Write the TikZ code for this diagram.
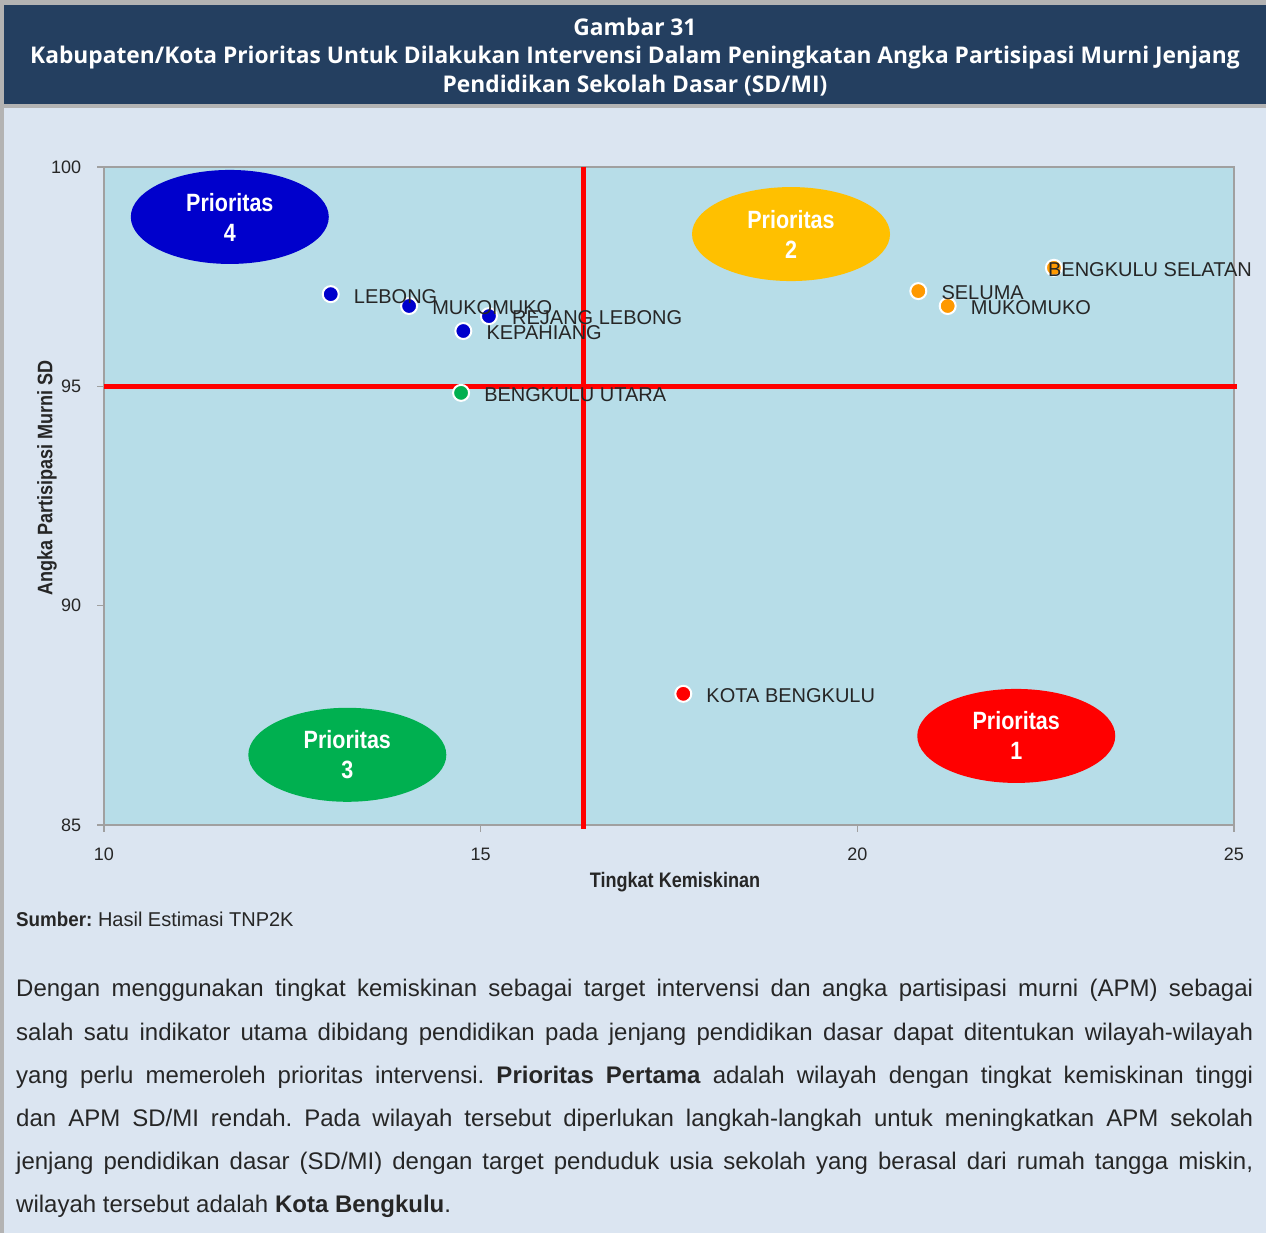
\documentclass[tikz,border=0pt]{standalone}
\usepackage{fontspec}
\setmainfont{Liberation Sans}
\newfontfamily\narrowfont[FakeStretch=0.86]{Liberation Sans}
\newfontfamily\condfont[FakeStretch=0.94]{Liberation Sans}
\newfontfamily\headfont[FakeStretch=0.99]{Open Sans}
\usetikzlibrary{positioning,shapes.geometric}
\definecolor{headblue}{HTML}{243F60}
\definecolor{panelblue}{HTML}{DBE5F1}
\definecolor{plotblue}{HTML}{B7DDE8}
\definecolor{framegray}{HTML}{B3B3B3}
\definecolor{axisgray}{HTML}{A0A0A0}
\definecolor{txtgray}{HTML}{262626}
\definecolor{pblue}{HTML}{0000CC}
\definecolor{porange}{HTML}{FFC000}
\definecolor{dorange}{HTML}{FF9900}
\definecolor{pgreen}{HTML}{00B050}
\tikzset{
  dot/.style={circle, fill=#1, draw=white, line width=2pt, minimum size=16pt, inner sep=0pt},
  dotlabel/.style={font=\fontsize{20}{20}\selectfont, text=txtgray, inner sep=0pt, yshift=-2pt},
  prio/.style={ellipse, fill=#1, minimum width=198pt, minimum height=94pt, inner sep=0pt,
    text=white, align=center, font=\narrowfont\bfseries\fontsize{25}{30}\selectfont},
  ticklabel/.style={font=\fontsize{18}{18}\selectfont, text=txtgray, inner sep=0pt},
  axtitle/.style={font=\narrowfont\bfseries\fontsize{21}{21}\selectfont, text=txtgray, inner sep=0pt}
}
\frenchspacing
\begin{document}
\begin{tikzpicture}[x=1pt, y=1pt]
  % frame, header and panel
  \fill[framegray] (0,0) rectangle (1266,1233);
  \fill[panelblue] (4,0) rectangle (1266,1125);
  \fill[headblue] (4,1129) rectangle (1266,1228);
  \node[text=white, align=center, font=\headfont\bfseries\fontsize{23}{28.5}\selectfont] (title) at (635,1176)
    {Gambar 31\\Kabupaten/Kota Prioritas Untuk Dilakukan Intervensi Dalam Peningkatan Angka Partisipasi Murni Jenjang\\Pendidikan Sekolah Dasar (SD/MI)};

  % the plot, in data units
  \begin{scope}[x=75.33pt, y=43.87pt, shift={(-649.3pt,-3320.95pt)}]
    \fill[plotblue] (10,85) rectangle (25,100);
    \draw[axisgray, line width=1.5pt] (10,85) rectangle (25,100);
    \foreach \y in {85,90,95,100}
      \draw[axisgray, line width=1.5pt] (10,\y) -- ++(-7pt,0) node[ticklabel, left=15pt] {\y};
    \foreach \x in {10,15,20,25}
      \draw[axisgray, line width=1.5pt] (\x,85) -- ++(0,-7pt) node[ticklabel, below=15pt] {\x};
    \draw[red, line width=5pt] (10,95) -- (25.04,95);
    \draw[red, line width=5pt] (16.36,100) -- (16.36,84.9);

    \node[prio=pblue] (p4) at (11.67,98.86) {Prioritas\\4};
    \node[prio=porange] (p2) at (19.12,98.47) {Prioritas\\2};
    \node[prio=pgreen] (p3) at (13.23,86.60) {Prioritas\\3};
    \node[prio=red] (p1) at (22.11,87.03) {Prioritas\\1};

    \node[dot=pblue] (lebong) at (13.01,97.10) {};
    \node[dot=pblue] (mukomukoA) at (14.05,96.83) {};
    \node[dot=pblue] (rejang) at (15.11,96.60) {};
    \node[dot=pblue] (kepahiang) at (14.77,96.26) {};
    \node[dot=pgreen] (utara) at (14.74,94.85) {};
    \node[dot=dorange] (seluma) at (20.81,97.17) {};
    \node[dot=dorange] (mukomukoB) at (21.20,96.83) {};
    \node[dot=dorange] (selatan) at (22.61,97.70) {};
    \node[dot=red] (kota) at (17.69,87.99) {};

    \node[dotlabel, right=14pt of lebong] {LEBONG};
    \node[dotlabel, right=14pt of mukomukoA] {MUKOMUKO};
    \node[dotlabel, right=14pt of rejang] {REJANG LEBONG};
    \node[dotlabel, right=14pt of kepahiang] {KEPAHIANG};
    \node[dotlabel, right=14pt of utara] {BENGKULU UTARA};
    \node[dotlabel, right=14pt of seluma] {SELUMA};
    \node[dotlabel, right=14pt of mukomukoB] {MUKOMUKO};
    \node[dotlabel, right=-15pt of selatan] {BENGKULU SELATAN};
    \node[dotlabel, right=14pt of kota] {KOTA BENGKULU};
  \end{scope}

  \node[axtitle] (xtitle) at (675,351) {Tingkat Kemiskinan};
  \node[axtitle, rotate=90] (ytitle) at (47,755) {Angka Partisipasi Murni SD};

  % source and text below the figure
  \node[anchor=base west, inner sep=0pt, text=txtgray, font=\fontsize{20}{20}\selectfont] (source) at (16,306)
    {{\condfont\bfseries Sumber:} Hasil Estimasi TNP2K};
  \node[anchor=base west, text width=1237pt, align=justify, inner sep=0pt, text=txtgray,
    font=\fontsize{24}{43.2}\selectfont] (body) at (16,236)
    {Dengan menggunakan tingkat kemiskinan sebagai target intervensi dan angka partisipasi murni (APM) sebagai\linebreak
     salah satu indikator utama dibidang pendidikan pada jenjang pendidikan dasar dapat ditentukan wilayah-wilayah\linebreak
     yang perlu memeroleh prioritas intervensi. \textbf{Prioritas Pertama} adalah wilayah dengan tingkat kemiskinan tinggi\linebreak
     dan APM SD/MI rendah. Pada wilayah tersebut diperlukan langkah-langkah untuk meningkatkan APM sekolah\linebreak
     jenjang pendidikan dasar (SD/MI) dengan target penduduk usia sekolah yang berasal dari rumah tangga miskin,\linebreak
     wilayah tersebut adalah \textbf{Kota Bengkulu}.};
\end{tikzpicture}
\end{document}
